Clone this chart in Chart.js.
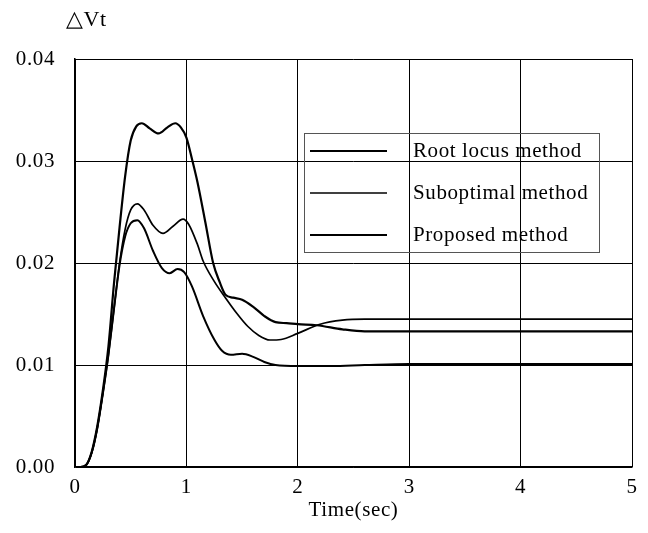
<!DOCTYPE html>
<html>
<head>
<meta charset="utf-8">
<script src="https://cdn.jsdelivr.net/npm/chart.js@4"></script>
<style>
  body { margin: 0; background: #fff; }
  #wrap { width: 648px; height: 533px; }
</style>
</head>
<body>
<div id="wrap"><canvas id="vtChart" width="648" height="533"></canvas></div>
<script>
// time (sec) and delta Vt
const tRoot = [0, 0.05, 0.1, 0.15, 0.2, 0.25, 0.3, 0.35, 0.4, 0.45, 0.5, 0.55, 0.6, 0.67, 0.75, 0.83, 0.9, 0.95, 1.0, 1.05, 1.1, 1.17, 1.24, 1.3, 1.35, 1.42, 1.5, 1.6, 1.7, 1.8, 1.9, 2.0, 2.17, 2.4, 2.6, 3, 4, 5];
const vRoot = [0, 0, 0.0002, 0.0015, 0.004, 0.0075, 0.0118, 0.018, 0.0235, 0.0285, 0.032, 0.0334, 0.0337, 0.0332, 0.0327, 0.0333, 0.0337, 0.0333, 0.0323, 0.0302, 0.0279, 0.0240, 0.020, 0.0181, 0.0169, 0.0166, 0.0164, 0.0157, 0.0148, 0.0142, 0.0141, 0.014, 0.0139, 0.0135, 0.0133, 0.0133, 0.0133, 0.0133];

const tSubopt = [0, 0.05, 0.1, 0.15, 0.2, 0.25, 0.3, 0.35, 0.4, 0.45, 0.5, 0.56, 0.62, 0.7, 0.79, 0.88, 0.97, 1.02, 1.1, 1.15, 1.25, 1.35, 1.45, 1.55, 1.65, 1.75, 1.85, 2.0, 2.2, 2.4, 2.6, 3, 4, 5];
const vSubopt = [0, 0, 0.0002, 0.0014, 0.0038, 0.0072, 0.011, 0.0155, 0.02, 0.0233, 0.0252, 0.0258, 0.0252, 0.0237, 0.0229, 0.0236, 0.0243, 0.0238, 0.0218, 0.0202, 0.0182, 0.0166, 0.0151, 0.0138, 0.0129, 0.01245, 0.0125, 0.0131, 0.014, 0.0144, 0.0145, 0.0145, 0.0145, 0.0145];

const tProposed = [0, 0.05, 0.1, 0.15, 0.2, 0.25, 0.3, 0.35, 0.4, 0.45, 0.5, 0.56, 0.62, 0.7, 0.78, 0.85, 0.92, 0.98, 1.05, 1.15, 1.25, 1.32, 1.4, 1.5, 1.6, 1.7, 1.8, 2.0, 2.3, 2.6, 3, 4, 5];
const vProposed = [0, 0, 0.0002, 0.0014, 0.0038, 0.0072, 0.011, 0.0155, 0.0198, 0.0226, 0.0239, 0.0242, 0.0234, 0.0212, 0.0195, 0.019, 0.0194, 0.0191, 0.0177, 0.0148, 0.0125, 0.0114, 0.011, 0.0111, 0.0108, 0.0103, 0.01, 0.0099, 0.0099, 0.01, 0.0101, 0.0101, 0.0101];

const seriesNames = ['Root locus method', 'Suboptimal method', 'Proposed method'];
const xTicks = [0, 1, 2, 3, 4, 5];
const yTicks = [0, 0.01, 0.02, 0.03, 0.04];

const serif = 'Liberation Serif';
const fontSize = 21;
const spacing = '0.6px';

function pts(ts, vs) {
  return ts.map((t, i) => ({ x: t, y: vs[i] }));
}

// the scanned figure has slightly loose type
const looseText = {
  id: 'looseText',
  beforeDraw(chart) { chart.ctx.letterSpacing = spacing; }
};

// legend box drawn inside the plot, gridlines show through
const boxLegend = {
  id: 'boxLegend',
  afterDatasetsDraw(chart) {
    const c = chart.ctx;
    c.save();
    c.letterSpacing = spacing;
    c.strokeStyle = '#555';
    c.lineWidth = 1;
    c.strokeRect(304.5, 133.5, 295, 119);
    const rows = [151, 193, 235];
    c.font = fontSize + 'px "' + serif + '"';
    c.fillStyle = '#000';
    c.textBaseline = 'middle';
    chart.data.datasets.forEach((ds, i) => {
      c.beginPath();
      c.strokeStyle = '#000';
      c.lineWidth = ds.borderWidth;
      c.moveTo(310, rows[i]);
      c.lineTo(387, rows[i]);
      c.stroke();
      c.fillText(ds.label, 413, rows[i]);
    });
    c.font = '22px "' + serif + '"';
    c.textBaseline = 'alphabetic';
    c.fillText('\u25B3Vt', 66, 26);
    c.restore();
  }
};

const ctx = document.getElementById('vtChart').getContext('2d');
const vtChart = new Chart(ctx, {
  type: 'line',
  data: {
    datasets: [
      { label: seriesNames[0], data: pts(tRoot, vRoot), borderColor: '#000', borderWidth: 2.2 },
      { label: seriesNames[1], data: pts(tSubopt, vSubopt), borderColor: '#000', borderWidth: 1.7 },
      { label: seriesNames[2], data: pts(tProposed, vProposed), borderColor: '#000', borderWidth: 2 }
    ]
  },
  options: {
    responsive: false,
    animation: false,
    cubicInterpolationMode: 'monotone',
    elements: { point: { radius: 0 } },
    layout: { padding: { left: 0, right: 16, top: 59, bottom: 0 } },
    plugins: {
      legend: { display: false },
      tooltip: { enabled: false }
    },
    scales: {
      x: {
        type: 'linear',
        min: 0,
        max: 5,
        afterFit(scale) { scale.height = 66; },
        afterBuildTicks(scale) { scale.ticks = xTicks.map(v => ({ value: v })); },
        grid: { color: '#000', lineWidth: 1, drawTicks: false },
        border: { color: '#000', width: 1.5 },
        ticks: {
          color: '#000',
          padding: 8,
          font: { family: serif, size: fontSize },
          callback: v => String(v)
        },
        title: {
          display: true,
          text: 'Time(sec)',
          color: '#000',
          font: { family: serif, size: fontSize },
          padding: { top: 0, bottom: 10 }
        }
      },
      y: {
        min: 0,
        max: 0.04,
        afterFit(scale) { scale.width = 75; },
        afterBuildTicks(scale) { scale.ticks = yTicks.map(v => ({ value: v })); },
        grid: { color: '#000', lineWidth: 1, drawTicks: false },
        border: { color: '#000', width: 1.5 },
        ticks: {
          color: '#000',
          padding: 20,
          font: { family: serif, size: fontSize },
          callback: v => v.toFixed(2)
        }
      }
    }
  },
  plugins: [looseText, boxLegend]
});
</script>
</body>
</html>
